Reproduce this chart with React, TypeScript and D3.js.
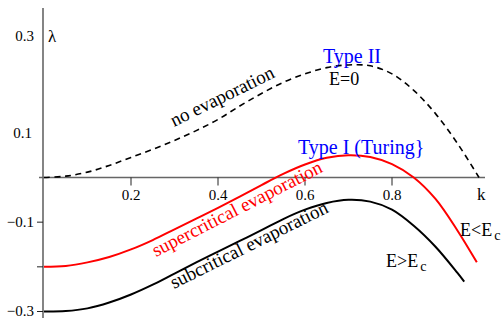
import React, { useEffect, useRef } from "react";
import * as d3 from "d3";

// wavenumber k and growth rate lambda
const noEvapK = [0, 0.05, 0.1, 0.15, 0.2, 0.25, 0.3, 0.35, 0.4, 0.45, 0.5, 0.55, 0.6, 0.65, 0.7, 0.75, 0.8, 0.85, 0.9, 0.95, 1.0];
const noEvapLambda = [0, 0.003, 0.012, 0.027, 0.045, 0.063, 0.083, 0.105, 0.13, 0.16, 0.188, 0.213, 0.232, 0.246, 0.252, 0.25, 0.232, 0.195, 0.143, 0.077, 0];

const superK = [0, 0.05, 0.1, 0.15, 0.2, 0.25, 0.3, 0.35, 0.4, 0.45, 0.5, 0.55, 0.6, 0.65, 0.7, 0.75, 0.8, 0.85, 0.9, 0.95, 0.995];
const superLambda = [-0.2, -0.198, -0.19, -0.178, -0.161, -0.14, -0.116, -0.092, -0.068, -0.043, -0.017, 0.008, 0.029, 0.044, 0.05, 0.046, 0.03, 0.0, -0.048, -0.118, -0.19];

const subK = [0, 0.05, 0.1, 0.15, 0.2, 0.25, 0.3, 0.35, 0.4, 0.45, 0.5, 0.55, 0.6, 0.65, 0.7, 0.75, 0.8, 0.85, 0.9, 0.95, 0.966];
const subLambda = [-0.3, -0.299, -0.293, -0.28, -0.262, -0.24, -0.215, -0.19, -0.166, -0.142, -0.118, -0.093, -0.072, -0.057, -0.05, -0.054, -0.072, -0.108, -0.155, -0.213, -0.233];

const xTicks = [0.2, 0.4, 0.6, 0.8];
const yTickMarks = [-0.1, -0.2, -0.3];
const yTickLabels = [0.3, 0.1, -0.1, -0.3];

const FONT = "Liberation Serif, Times New Roman, serif";

export default function App() {
  const ref = useRef<SVGSVGElement | null>(null);

  useEffect(() => {
    const svg = d3.select(ref.current);
    svg.selectAll("*").remove();

    const x = d3.scaleLinear().domain([0, 1]).range([44, 479]);
    const y = d3.scaleLinear().domain([-0.3, 0]).range([311.5, 177.5]);

    const fmt = (v: number) => (v < 0 ? "\u2212" + d3.format(".1f")(-v) : d3.format(".1f")(v));

    // axes
    svg.append("line")
      .attr("x1", 39).attr("x2", 485)
      .attr("y1", y(0)).attr("y2", y(0))
      .attr("stroke", "#666").attr("stroke-width", 1.6);
    svg.append("line")
      .attr("x1", 43).attr("x2", 43)
      .attr("y1", 8).attr("y2", 318)
      .attr("stroke", "#666").attr("stroke-width", 1.6);

    svg.selectAll(".xtick")
      .data(xTicks)
      .enter().append("line")
      .attr("x1", d => x(d)).attr("x2", d => x(d))
      .attr("y1", y(0)).attr("y2", y(0) + 8)
      .attr("stroke", "#222").attr("stroke-width", 1);
    svg.selectAll(".xlabel")
      .data(xTicks)
      .enter().append("text")
      .attr("x", d => x(d)).attr("y", 200)
      .attr("text-anchor", "middle")
      .attr("font-family", FONT).attr("font-size", 15)
      .text(d => d3.format(".1f")(d));

    svg.selectAll(".ytick")
      .data(yTickMarks)
      .enter().append("line")
      .attr("x1", 37).attr("x2", 43)
      .attr("y1", d => y(d)).attr("y2", d => y(d))
      .attr("stroke", "#222").attr("stroke-width", 1);
    svg.selectAll(".ylabel")
      .data(yTickLabels)
      .enter().append("text")
      .attr("x", d => (d > 0 && d < 0.2 ? 32 : 34))
      .attr("y", d => y(d) + (d > 0.2 ? -7 : 0))
      .attr("dy", "0.33em")
      .attr("text-anchor", "end")
      .attr("font-family", FONT).attr("font-size", 15)
      .text(d => fmt(d));

    svg.append("text").attr("x", 48).attr("y", 42)
      .attr("font-family", FONT).attr("font-size", 17)
      .text("\u03bb");
    svg.append("text").attr("x", 477).attr("y", 200)
      .attr("font-family", FONT).attr("font-size", 17)
      .text("k");

    // curves
    const line = d3.line<[number, number]>()
      .x(d => x(d[0]))
      .y(d => y(d[1]))
      .curve(d3.curveCatmullRom.alpha(0.5));

    svg.append("path")
      .attr("d", line(noEvapK.map((k, i) => [k, noEvapLambda[i]] as [number, number])))
      .attr("fill", "none").attr("stroke", "#000").attr("stroke-width", 1.6)
      .attr("stroke-dasharray", "6,4.5");
    svg.append("path")
      .attr("d", line(superK.map((k, i) => [k, superLambda[i]] as [number, number])))
      .attr("fill", "none").attr("stroke", "#ff0000").attr("stroke-width", 2);
    svg.append("path")
      .attr("d", line(subK.map((k, i) => [k, subLambda[i]] as [number, number])))
      .attr("fill", "none").attr("stroke", "#000").attr("stroke-width", 2);

    // annotations
    const label = (tx: number, ty: number, txt: string, color: string, size: number, rot = 0) =>
      svg.append("text")
        .attr("transform", `translate(${tx},${ty}) rotate(${rot})`)
        .attr("fill", color)
        .attr("font-family", FONT).attr("font-size", size)
        .text(txt);

    label(174, 127, "no evaporation", "#000", 19, -26.2);
    label(156, 257, "supercritical evaporation", "#ff0000", 19, -27);
    label(174, 289, "subcritical evaporation", "#000", 19, -26.4);
    label(323, 62.5, "Type II", "#0000ff", 20);
    label(329, 85, "E=0", "#000", 18);
    label(298, 154, "Type I (Turing}", "#0000ff", 20);

    const sub = (tx: number, ty: number, main: string, s: string) => {
      const t = svg.append("text")
        .attr("x", tx).attr("y", ty)
        .attr("font-family", FONT).attr("font-size", 18);
      t.append("tspan").text(main);
      t.append("tspan").attr("dx", 2).attr("dy", 4).attr("font-size", 14).text(s);
    };
    sub(460, 236, "E<E", "c");
    sub(386, 267, "E>E", "c");
  }, []);

  return (
    <svg
      ref={ref}
      width={504}
      height={320}
      style={{ position: "absolute", left: 0, top: 0, background: "#fff" }}
    />
  );
}
